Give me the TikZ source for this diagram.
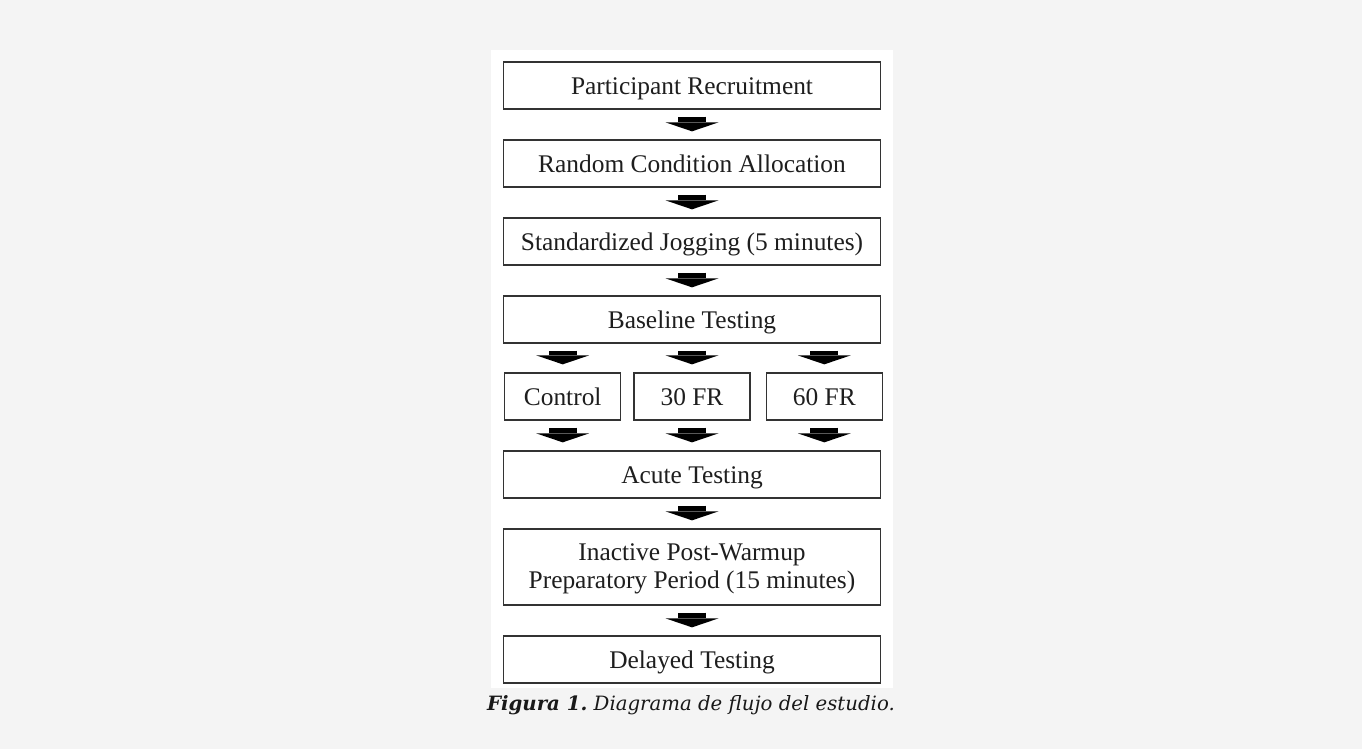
\documentclass[tikz,border=0pt]{standalone}
\usepackage{fontspec}
\setmainfont{Liberation Serif}
\newfontfamily\capfont{DejaVu Serif}
\usetikzlibrary{positioning,arrows.meta}
\definecolor{pagegray}{HTML}{F4F4F4}
\definecolor{boxline}{HTML}{333333}
\definecolor{inkgray}{HTML}{1E1E1E}

\begin{document}
\begin{tikzpicture}[x=1bp, y=-1bp, node distance=29.7bp,
    stage/.style={draw=boxline, line width=1.3bp, text=inkgray, fill=white,
      minimum width=377bp, minimum height=47bp, inner sep=0pt,
      text height=18bp, text depth=0bp,
      font=\fontsize{25.5}{28}\selectfont, align=center},
    arm/.style={stage, minimum width=116bp},
    flow/.style={line width=28bp, shorten <=7bp, shorten >=8bp,
      -{Triangle[width=53bp, length=9bp, line width=0pt]}}]
  % page and panel
  \fill[pagegray] (0,0) rectangle (1362,749);
  \fill[white] (491,50) rectangle (893,688);

  % main column
  \node[stage] (recruit) at (692,85.5) {Participant Recruitment};
  \node[stage, below=of recruit] (alloc) {Random Condition Allocation};
  \node[stage, below=of alloc] (jog) {Standardized Jogging (5 minutes)};
  \node[stage, below=of jog] (base) {Baseline Testing};

  % the three conditions
  \node[arm, below=28.7bp of base] (fr30) {30 FR};
  \node[arm, left=12bp of fr30] (ctrl) {Control};
  \node[arm, right=15bp of fr30] (fr60) {60 FR};

  \node[stage, below=of fr30] (acute) {Acute Testing};
  \node[stage, below=of acute, minimum height=76bp, text height=43bp, text depth=0bp] (wait)
    {Inactive Post-Warmup\\Preparatory Period (15 minutes)};
  \node[stage, below=of wait] (delay) {Delayed Testing};

  % arrows
  \foreach \a/\b in {recruit/alloc, alloc/jog, jog/base, acute/wait, wait/delay}
    \draw[flow] (\a) -- (\b);
  \foreach \arm in {ctrl, fr30, fr60} {
    \draw[flow] (base.south -| \arm.north) -- (\arm.north);
    \draw[flow] (\arm.south) -- (\arm.south |- acute.north);
  }

  \node[anchor=base, text=black!90, font=\capfont\fontsize{19.8}{24}\selectfont] (caption) at (691,710)
    {{\bfseries\itshape Figura 1.}\ \itshape Diagrama de flujo del estudio.};
\end{tikzpicture}
\end{document}
